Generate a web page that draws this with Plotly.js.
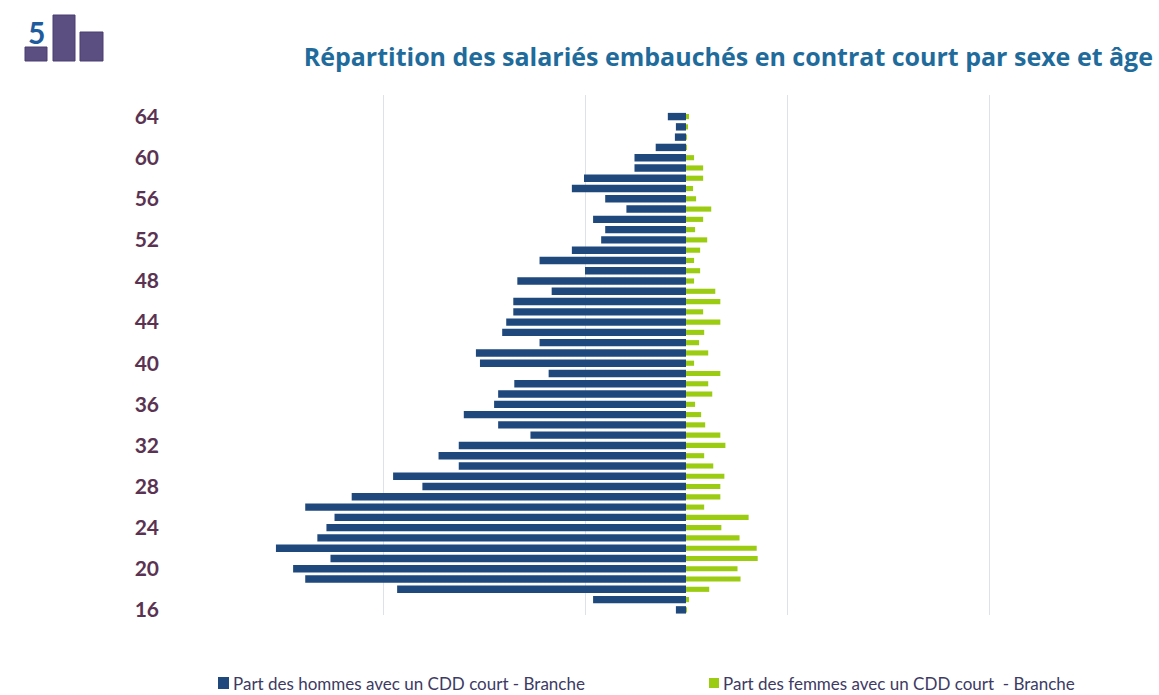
<!DOCTYPE html>
<html>
<head>
<meta charset="utf-8">
<script src="https://cdn.plot.ly/plotly-3.0.1.min.js"></script>
<style>
html, body { margin: 0; padding: 0; background: #ffffff; }
#chart { width: 1159px; height: 695px; }
</style>
</head>
<body>
<div id="chart"></div>
<script>
// Ages (16 -> 64)
const ages = [16,17,18,19,20,21,22,23,24,25,26,27,28,29,30,31,32,33,34,35,36,37,38,39,40,
              41,42,43,44,45,46,47,48,49,50,51,52,53,54,55,56,57,58,59,60,61,62,63,64];

// Part des hommes avec un CDD court - Branche (%)
const hommes = [0.10,0.92,2.86,3.77,3.89,3.52,4.06,3.65,3.56,3.48,3.77,3.31,2.61,2.90,2.25,2.45,2.25,1.54,1.86,2.20,
                1.90,1.86,1.70,1.36,2.04,2.08,1.45,1.82,1.78,1.71,1.71,1.33,1.67,1.00,1.45,1.13,0.84,0.80,0.92,0.59,
                0.80,1.13,1.01,0.51,0.51,0.30,0.11,0.10,0.18];

// Part des femmes avec un CDD court - Branche (%)
const femmes = [0.01,0.03,0.23,0.54,0.51,0.71,0.70,0.53,0.35,0.62,0.18,0.34,0.34,0.38,0.27,0.18,0.39,0.34,0.19,0.15,
                0.09,0.26,0.22,0.34,0.08,0.22,0.13,0.18,0.34,0.17,0.34,0.29,0.08,0.14,0.08,0.14,0.21,0.09,0.17,0.25,
                0.10,0.07,0.17,0.17,0.08,0.01,0.01,0.02,0.03];

const ageTicks = [16,20,24,28,32,36,40,44,48,52,56,60,64];
const gridVals = [-3,-1,1,3];

const titleText = "Répartition des salariés embauchés en contrat court par sexe et âge";
const labelHommes = "Part des hommes avec un CDD court - Branche";
const labelFemmes = "Part des femmes avec un CDD court  - Branche";

const colHommes = "#1f497d";
const colFemmes = "#9ccc12";

// plot area in pixels
const W = 1159, H = 695;
const PL = 170, PR = 1100, PT = 95, PB = 615;
const px = x => (x - PL) / (PR - PL);
const py = y => 1 - (y - PT) / (PB - PT);

const traces = [
  {
    type: "bar", orientation: "h", name: labelHommes,
    y: ages, x: hommes.map(v => -v),
    marker: { color: colHommes },
    width: 0.72, showlegend: false,
    hovertemplate: "%{y} ans: %{customdata}%<extra></extra>", customdata: hommes
  },
  {
    type: "bar", orientation: "h", name: labelFemmes,
    y: ages, x: femmes,
    marker: { color: colFemmes },
    width: 0.5, showlegend: false,
    hovertemplate: "%{y} ans: %{x}%<extra></extra>"
  }
];

const shapes = [
  // legend squares
  { type: "rect", xref: "paper", yref: "paper", x0: px(218), x1: px(229), y0: py(689), y1: py(677),
    fillcolor: colHommes, line: { width: 0 } },
  { type: "rect", xref: "paper", yref: "paper", x0: px(709), x1: px(719), y0: py(688), y1: py(678),
    fillcolor: colFemmes, line: { width: 0 } },
  // logo bars
  { type: "rect", xref: "paper", yref: "paper", x0: px(25), x1: px(47), y0: py(61), y1: py(47),
    fillcolor: "#5b4f82", line: { width: 1, color: "#4a3f70" } },
  { type: "rect", xref: "paper", yref: "paper", x0: px(53), x1: px(75), y0: py(61), y1: py(15),
    fillcolor: "#5b4f82", line: { width: 1, color: "#4a3f70" } },
  { type: "rect", xref: "paper", yref: "paper", x0: px(80), x1: px(103), y0: py(61), y1: py(32),
    fillcolor: "#5b4f82", line: { width: 1, color: "#4a3f70" } }
];

const annotations = [
  { xref: "paper", yref: "paper", x: px(231), y: py(683), xanchor: "left", yanchor: "middle",
    text: labelHommes, showarrow: false,
    font: { family: "Lato", size: 17, color: "#3d3a63" } },
  { xref: "paper", yref: "paper", x: px(721), y: py(683), xanchor: "left", yanchor: "middle",
    text: labelFemmes, showarrow: false,
    font: { family: "Lato", size: 17, color: "#3d3a63" } },
  { xref: "paper", yref: "paper", x: px(36), y: py(32), xanchor: "center", yanchor: "middle",
    text: "5", showarrow: false,
    font: { family: "Lato", size: 30, weight: 700, color: "#1f5c9e" } }
];

const layout = {
  width: W, height: H,
  margin: { l: PL, r: W - PR, t: PT, b: H - PB, pad: 0 },
  paper_bgcolor: "#ffffff", plot_bgcolor: "#ffffff",
  barmode: "overlay",
  title: {
    text: titleText,
    xref: "container", yref: "container",
    x: 1153 / W, xanchor: "right",
    y: 1 - 57 / H, yanchor: "middle",
    font: { family: "Open Sans", size: 25, weight: 700, color: "#1f6b9b" }
  },
  xaxis: {
    range: [(PL - 686) / 101, (PR - 686) / 101],
    tickvals: gridVals, showticklabels: false,
    showgrid: true, gridcolor: "#dfe1ea", gridwidth: 1,
    zeroline: false, showline: false, ticks: "", fixedrange: true
  },
  yaxis: {
    range: [15.5, 66.1],
    tickvals: ageTicks, ticktext: ageTicks.map(String),
    showgrid: false, zeroline: false, showline: false, ticks: "",
    ticklabelstandoff: 10,
    tickfont: { family: "Lato", size: 21, weight: 700, color: "#5a3352" },
    fixedrange: true
  },
  shapes: shapes,
  annotations: annotations,
  showlegend: false,
  font: { family: "Lato" }
};

Plotly.newPlot("chart", traces, layout, { displayModeBar: false, staticPlot: true });
</script>
</body>
</html>
